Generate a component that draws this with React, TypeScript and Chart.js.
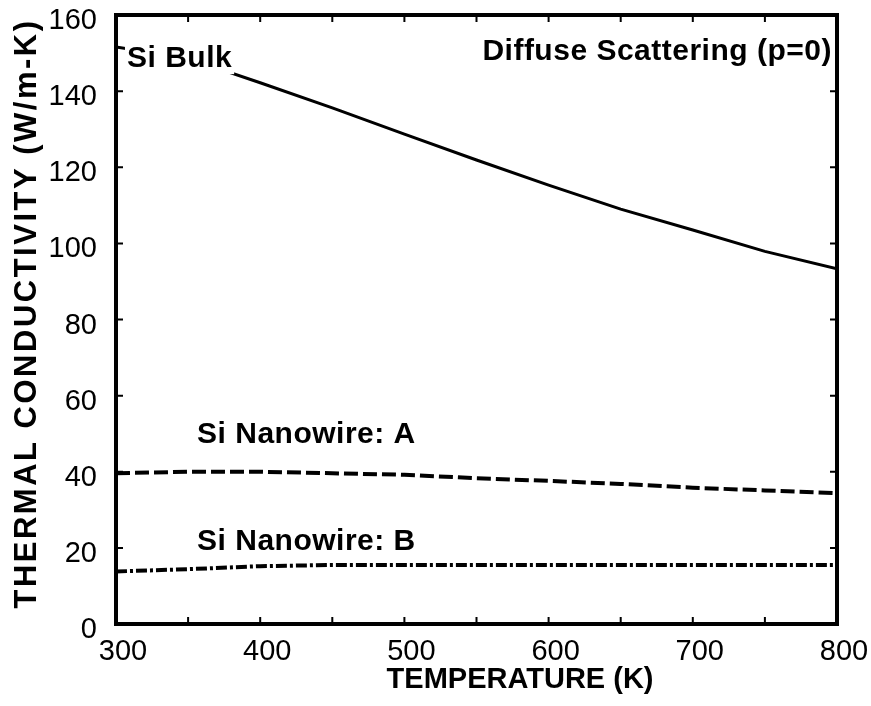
import React, { useEffect, useRef } from "react";
import { Chart, registerables } from "chart.js";

Chart.register(...registerables);

// ---- data ----
const temperatures = [300, 350, 400, 450, 500, 550, 600, 650, 700, 750, 800];
const siBulk = [151.6, 148.6, 142.2, 135.6, 128.7, 121.9, 115.3, 109.0, 103.5, 97.9, 93.3];
const nanowireA = [39.6, 40.0, 40.0, 39.6, 39.2, 38.3, 37.6, 36.8, 35.8, 35.1, 34.4];
const nanowireB = [13.8, 14.4, 15.2, 15.5, 15.5, 15.5, 15.5, 15.5, 15.5, 15.5, 15.5];

const xTickLabels = [300, 400, 500, 600, 700, 800];
const yTickLabels = [0, 20, 40, 60, 80, 100, 120, 140, 160];

const xTitle = "TEMPERATURE (K)";
const yTitle = "THERMAL CONDUCTIVITY (W/m-K)";

// annotation texts with anchor in data coordinates
const annotations = [
  { text: "Si Bulk", t: 307.6, v: 146.3, align: "left", box: true },
  { text: "Diffuse Scattering (p=0)", t: 796.5, v: 148.2, align: "right", box: false },
  { text: "Si Nanowire: A", t: 356.2, v: 47.6, align: "left", box: false },
  { text: "Si Nanowire: B", t: 356.2, v: 19.4, align: "left", box: false },
];

const FONT = "'Liberation Sans', Arial, Helvetica, sans-serif";

const overlayPlugin = {
  id: "overlay",
  afterDatasetsDraw(chart: any) {
    const ctx = chart.ctx;
    const xs = chart.scales.x;
    const ys = chart.scales.y;
    ctx.save();
    ctx.font = `bold 30px ${FONT}`;
    (ctx as any).letterSpacing = "0.5px";
    ctx.fillStyle = "#000";
    ctx.textBaseline = "alphabetic";
    for (const a of annotations) {
      const px = xs.getPixelForValue(a.t);
      const py = ys.getPixelForValue(a.v);
      ctx.textAlign = a.align as CanvasTextAlign;
      const w = ctx.measureText(a.text).width;
      if (a.box) {
        ctx.fillStyle = "#fff";
        const left = a.align === "left" ? px : px - w;
        ctx.fillRect(left - 2, py - 26, w + 4, 33);
        ctx.fillStyle = "#000";
      }
      ctx.fillText(a.text, px, py);
    }
    ctx.restore();
  },
  afterDraw(chart: any) {
    const ctx = chart.ctx;
    const { left, right, top, bottom } = chart.chartArea;
    const xs = chart.scales.x;
    const ys = chart.scales.y;
    ctx.save();
    ctx.strokeStyle = "#000";
    // ticks
    ctx.lineWidth = 2;
    const tl = 7;
    ctx.beginPath();
    for (const tk of xs.ticks) {
      const px = xs.getPixelForValue(tk.value);
      ctx.moveTo(px, bottom);
      ctx.lineTo(px, bottom - tl);
      ctx.moveTo(px, top);
      ctx.lineTo(px, top + tl);
    }
    for (const tk of ys.ticks) {
      const py = ys.getPixelForValue(tk.value);
      ctx.moveTo(left, py);
      ctx.lineTo(left + tl, py);
      ctx.moveTo(right, py);
      ctx.lineTo(right - tl, py);
    }
    ctx.stroke();
    // frame
    ctx.lineWidth = 4;
    ctx.strokeRect(left, top, right - left, bottom - top);

    // axis titles
    ctx.fillStyle = "#000";
    ctx.textAlign = "center";
    ctx.textBaseline = "middle";
    ctx.font = `bold 29px ${FONT}`;
    ctx.fillText(xTitle, xs.getPixelForValue(580.2), bottom + 56);

    ctx.translate(27, (top + bottom) / 2 - 6);
    ctx.rotate(-Math.PI / 2);
    ctx.font = `bold 31px ${FONT}`;
    (ctx as any).letterSpacing = "2.5px";
    ctx.fillText(yTitle, 0, 0);
    ctx.restore();
  },
};

export default function App() {
  const ref = useRef<HTMLCanvasElement | null>(null);
  useEffect(() => {
    if (!ref.current) return;
    const chart = new Chart(ref.current, {
      type: "line",
      data: {
        labels: temperatures,
        datasets: [
          {
            label: "Si Bulk",
            data: temperatures.map((t, i) => ({ x: t, y: siBulk[i] })),
            borderColor: "#000",
            borderWidth: 3,
            pointRadius: 0,
            tension: 0,
            fill: false,
          },
          {
            label: "Si Nanowire: A",
            data: temperatures.map((t, i) => ({ x: t, y: nanowireA[i] })),
            borderColor: "#000",
            borderWidth: 4,
            borderDash: [14, 5],
            pointRadius: 0,
            tension: 0,
            fill: false,
          },
          {
            label: "Si Nanowire: B",
            data: temperatures.map((t, i) => ({ x: t, y: nanowireB[i] })),
            borderColor: "#000",
            borderWidth: 4,
            borderDash: [11, 3, 3, 3],
            pointRadius: 0,
            tension: 0,
            fill: false,
          },
        ],
      },
      options: {
        animation: false,
        responsive: false,
        layout: { padding: { left: 0, right: 34, top: 15, bottom: 0 } },
        plugins: { legend: { display: false }, tooltip: { enabled: false } },
        scales: {
          x: {
            type: "linear",
            min: 300,
            max: 800,
            grid: { display: false, drawTicks: false },
            border: { display: false },
            ticks: {
              stepSize: 50,
              autoSkip: false,
              maxRotation: 0,
              labelOffset: 7,
              padding: 13,
              color: "#000",
              font: { family: FONT, size: 29, lineHeight: 1 },
              callback: (v: any) => (xTickLabels.includes(Number(v)) ? String(v) : ""),
            },
            afterFit: (s: any) => {
              s.height = 82;
              s.paddingLeft = 0;
              s.paddingRight = 0;
            },
          },
          y: {
            type: "linear",
            min: 0,
            max: 160,
            grid: { display: false, drawTicks: false },
            border: { display: false },
            ticks: {
              stepSize: 20,
              labelOffset: 6,
              padding: 19,
              color: "#000",
              font: { family: FONT, size: 29, lineHeight: 1 },
              callback: (v: any) => (yTickLabels.includes(Number(v)) ? String(v) : ""),
            },
            afterFit: (s: any) => {
              s.width = 116;
              s.paddingTop = 0;
              s.paddingBottom = 0;
            },
          },
        },
      },
      plugins: [overlayPlugin],
    });
    return () => chart.destroy();
  }, []);
  return (
    <div style={{ position: "absolute", left: 0, top: 0, width: 871, height: 706, background: "#fff" }}>
      <canvas ref={ref} width={871} height={706} />
    </div>
  );
}
